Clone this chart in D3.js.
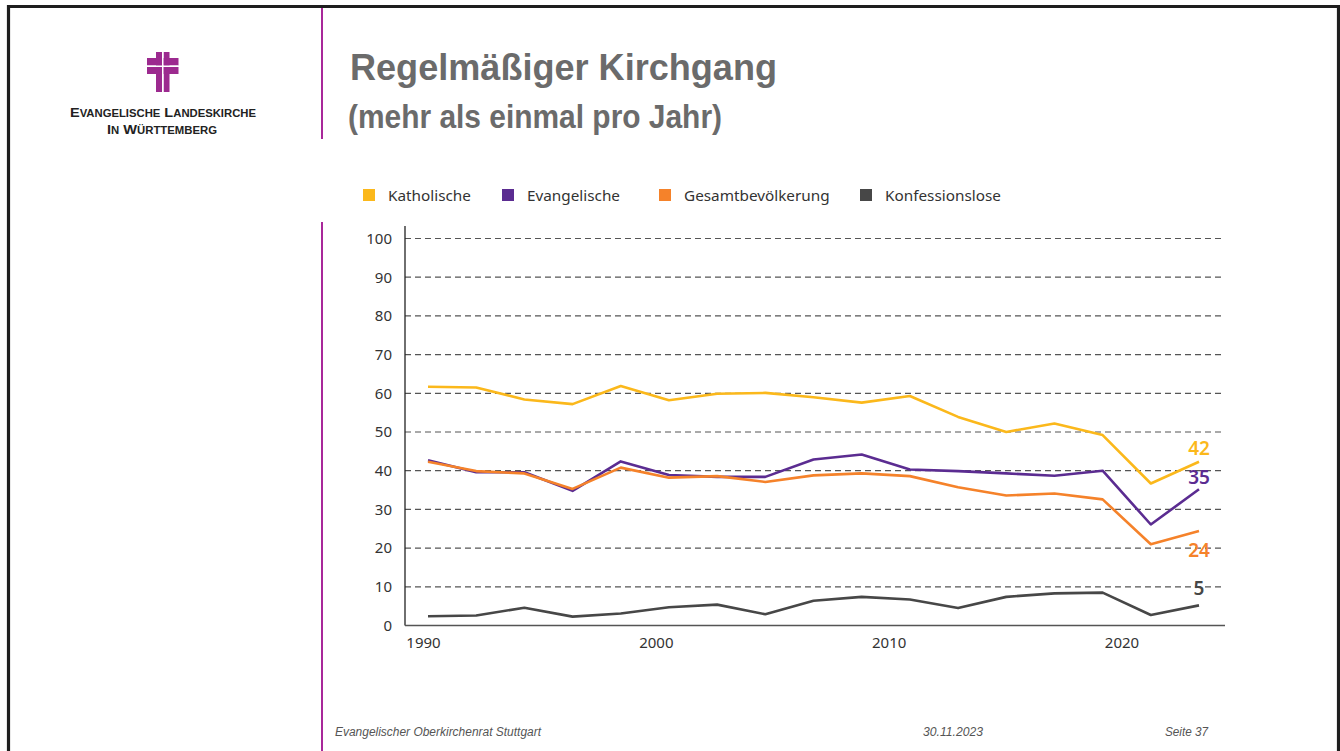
<!DOCTYPE html>
<html>
<head>
<meta charset="utf-8">
<script src="https://cdn.jsdelivr.net/npm/d3@7"></script>
<style>
    body { margin: 0; background: #fff; }
    svg { display: block; }
    .chart-text { font-family: "Noto Sans", "Open Sans", sans-serif; fill: #333; }
</style>
</head>
<body>
<svg id="canvas" width="1340" height="751"></svg>
<script>
// Survey waves (evenly spaced in the chart)
const waves = [1990, 1992, 1994, 1996, 1998, 2000, 2002, 2004, 2006, 2008,
               2010, 2012, 2014, 2016, 2018, 2021, 2023];

const katholische = [61.7, 61.5, 58.4, 57.2, 61.9, 58.2, 59.9, 60.1, 59.0, 57.6,
                     59.3, 53.9, 50.0, 52.2, 49.2, 36.7, 42.3];
const evangelische = [42.7, 39.6, 39.6, 34.8, 42.4, 38.9, 38.4, 38.4, 42.9, 44.2,
                      40.3, 39.9, 39.3, 38.7, 40.0, 26.1, 35.2];
const gesamt = [42.3, 39.9, 39.3, 35.3, 40.8, 38.2, 38.6, 37.1, 38.8, 39.3,
                38.6, 35.7, 33.6, 34.1, 32.6, 21.0, 24.4];
const konfessionslose = [2.4, 2.6, 4.6, 2.3, 3.1, 4.7, 5.4, 2.9, 6.4, 7.4,
                         6.7, 4.5, 7.4, 8.3, 8.5, 2.7, 5.2];

const seriesNames = ["Katholische", "Evangelische", "Gesamtbevölkerung", "Konfessionslose"];
const seriesColors = ["#fbb81b", "#5b2c91", "#f5822a", "#474747"];
const yTicks = [0, 10, 20, 30, 40, 50, 60, 70, 80, 90, 100];
const xTickYears = [1990, 2000, 2010, 2020];

const series = [
    {name: "Katholische", values: katholische, color: seriesColors[0], dy: -7},
    {name: "Konfessionslose", values: konfessionslose, color: seriesColors[3], dy: -10},
    {name: "Evangelische", values: evangelische, color: seriesColors[1], dy: -5},
    {name: "Gesamtbevölkerung", values: gesamt, color: seriesColors[2], dy: 26}
];

const svg = d3.select("#canvas");

/**
 * Slide frame, separators, logo, title and footer.
 */
function drawSlide() {
    svg.append("rect").attr("width", 1340).attr("height", 751).attr("fill", "#fff");

    // frame
    svg.append("path")
        .attr("d", "M8.5,751 V6.5 H1338.5 V751")
        .attr("fill", "none").attr("stroke", "#1e1e1e").attr("stroke-width", 3.2);

    // magenta separators
    svg.append("line").attr("x1", 322).attr("x2", 322).attr("y1", 8).attr("y2", 139)
        .attr("stroke", "#a8289a").attr("stroke-width", 2);
    svg.append("line").attr("x1", 322).attr("x2", 322).attr("y1", 222).attr("y2", 751)
        .attr("stroke", "#a8289a").attr("stroke-width", 2);

    // logo cross
    const logo = svg.append("g").attr("fill", "#9c2a8f");
    logo.append("rect").attr("x", 156).attr("y", 52).attr("width", 6).attr("height", 40);
    logo.append("rect").attr("x", 163.5).attr("y", 52).attr("width", 6).attr("height", 40);
    logo.append("rect").attr("x", 147).attr("y", 58).attr("width", 31.5).attr("height", 7.5);
    logo.append("rect").attr("x", 147).attr("y", 67).attr("width", 31.5).attr("height", 7);
    logo.append("rect").attr("x", 162).attr("y", 52).attr("width", 1.5).attr("height", 40).attr("fill", "#fff");
    logo.append("rect").attr("x", 147).attr("y", 65.5).attr("width", 31.5).attr("height", 1.5).attr("fill", "#fff");

    const smallCaps = (x, y, words, len) => {
        const t = svg.append("text")
            .attr("x", x).attr("y", y)
            .attr("font-family", "Liberation Sans, Arial, sans-serif")
            .attr("font-weight", "bold").attr("fill", "#222")
            .attr("textLength", len).attr("lengthAdjust", "spacingAndGlyphs");
        words.forEach((w, i) => {
            t.append("tspan").attr("font-size", 13.5).text((i ? " " : "") + w[0]);
            t.append("tspan").attr("font-size", 10.5).text(w.slice(1));
        });
    };
    smallCaps(70, 117, ["EVANGELISCHE", "LANDESKIRCHE"], 186);
    smallCaps(107, 134, ["IN", "WÜRTTEMBERG"], 110);

    // title
    svg.append("text").attr("x", 350).attr("y", 80)
        .attr("font-family", "Liberation Sans, Arial, sans-serif")
        .attr("font-weight", "bold").attr("font-size", 36).attr("fill", "#6b6b6b")
        .attr("textLength", 427).attr("lengthAdjust", "spacingAndGlyphs")
        .text("Regelmäßiger Kirchgang");
    svg.append("text").attr("x", 348).attr("y", 128)
        .attr("font-family", "Liberation Sans, Arial, sans-serif")
        .attr("font-weight", "bold").attr("font-size", 34).attr("fill", "#6b6b6b")
        .attr("textLength", 374).attr("lengthAdjust", "spacingAndGlyphs")
        .text("(mehr als einmal pro Jahr)");

    // footer
    const footer = [
        {text: "Evangelischer Oberkirchenrat Stuttgart", x: 335, len: 206},
        {text: "30.11.2023", x: 923, len: 60},
        {text: "Seite 37", x: 1165, len: 43}
    ];
    svg.selectAll(".footer")
        .data(footer)
        .enter()
        .append("text")
        .attr("class", "footer")
        .attr("x", d => d.x).attr("y", 736)
        .attr("font-family", "Liberation Sans, Arial, sans-serif")
        .attr("font-style", "italic").attr("font-size", 12).attr("fill", "#555")
        .attr("textLength", d => d.len).attr("lengthAdjust", "spacingAndGlyphs")
        .text(d => d.text);
}

/**
 * Legend row above the plot.
 */
function drawLegend() {
    const legendX = [363, 502, 659, 860];
    const items = svg.selectAll(".legend")
        .data(seriesNames)
        .enter()
        .append("g")
        .attr("class", "legend")
        .attr("transform", (d, i) => "translate(" + legendX[i] + ",189)");
    items.append("rect")
        .attr("width", 12).attr("height", 12)
        .attr("fill", (d, i) => seriesColors[i]);
    items.append("text")
        .attr("class", "chart-text")
        .attr("x", 25).attr("y", 12)
        .attr("font-size", 15.3)
        .text(d => d);
}

/**
 * Grid, axes, lines and end labels.
 */
function drawChart() {
    const left = 405, right = 1225;
    const x = d3.scalePoint().domain(waves).range([428, 1199]);
    const y = d3.scaleLinear().domain([0, 100]).range([625.5, 238.5]);
    const xLabels = d3.scaleLinear().domain([1990, 2020]).range([423, 1121.5]);

    // dashed gridlines
    svg.selectAll(".grid")
        .data(yTicks.filter(v => v > 0))
        .enter()
        .append("line")
        .attr("class", "grid")
        .attr("x1", left).attr("x2", right)
        .attr("y1", d => y(d)).attr("y2", d => y(d))
        .attr("stroke", "#555").attr("stroke-width", 1.2)
        .attr("stroke-dasharray", "6,4");

    // axis lines
    svg.append("line").attr("x1", left).attr("x2", left).attr("y1", 226).attr("y2", y(0))
        .attr("stroke", "#222").attr("stroke-width", 1.3);
    svg.append("line").attr("x1", left).attr("x2", right).attr("y1", y(0)).attr("y2", y(0))
        .attr("stroke", "#555").attr("stroke-width", 1.5);

    const yAxis = svg.append("g")
        .attr("transform", "translate(" + left + ",0)")
        .call(d3.axisLeft(y).tickValues(yTicks).tickSize(0).tickPadding(13));
    const xAxis = svg.append("g")
        .attr("transform", "translate(0," + y(0) + ")")
        .call(d3.axisBottom(xLabels).tickValues(xTickYears).tickFormat(d3.format("d")).tickSize(0).tickPadding(12));
    [yAxis, xAxis].forEach(a => {
        a.select(".domain").remove();
        a.selectAll("text")
            .attr("font-family", "Noto Sans, Open Sans, sans-serif")
            .attr("font-size", 15).attr("fill", "#333");
    });

    const line = d3.line()
        .x((d, i) => x(waves[i]))
        .y(d => y(d));

    svg.selectAll(".series")
        .data(series)
        .enter()
        .append("path")
        .attr("class", "series")
        .attr("d", d => line(d.values))
        .attr("fill", "none")
        .attr("stroke", d => d.color)
        .attr("stroke-width", 2.6)
        .attr("stroke-linejoin", "round");

    const last = waves.length - 1;
    svg.selectAll(".end-label")
        .data(series)
        .enter()
        .append("text")
        .attr("class", "end-label")
        .attr("x", x(waves[last]))
        .attr("y", d => y(d.values[last]) + d.dy)
        .attr("text-anchor", "middle")
        .attr("font-family", "Noto Sans, Open Sans, sans-serif")
        .attr("font-weight", 600).attr("font-size", 19)
        .attr("fill", d => d.color)
        .text(d => Math.round(d.values[last]));
}

drawSlide();
drawLegend();
drawChart();
</script>
</body>
</html>
